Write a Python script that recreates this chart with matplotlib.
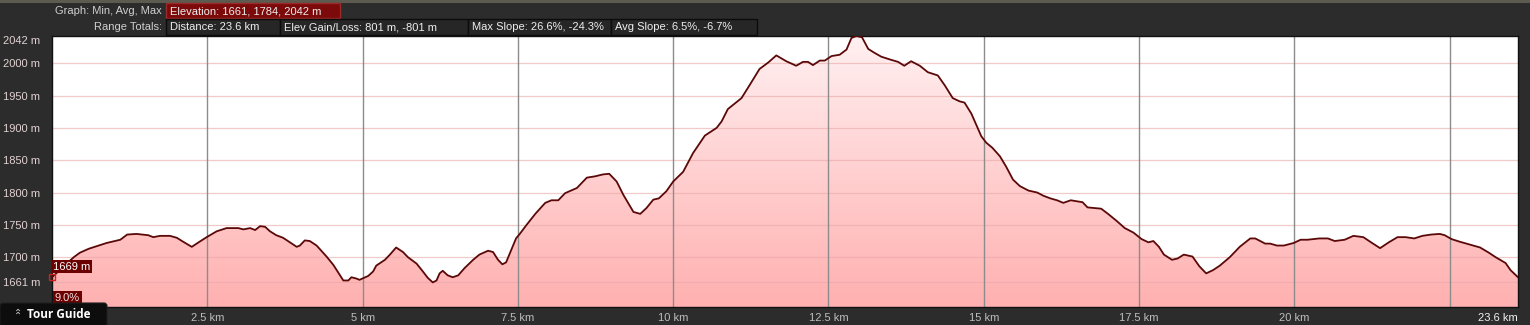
import numpy as np
import matplotlib
matplotlib.use("Agg")
import matplotlib.pyplot as plt
from matplotlib.patches import Rectangle, Polygon, FancyBboxPatch
from matplotlib.colors import LinearSegmentedColormap

# ---- data (distance km, elevation m) ----
distance_km = [
    0.00, 0.35, 0.45, 0.59, 0.75, 0.88, 1.10, 1.21, 1.36, 1.55, 1.63, 1.74, 1.90, 2.01,
    2.11, 2.25, 2.36, 2.49, 2.65, 2.81, 3.00, 3.08, 3.19, 3.27, 3.35, 3.43, 3.51, 3.61,
    3.72, 3.83, 3.94, 3.99, 4.07, 4.15, 4.26, 4.42, 4.53, 4.69, 4.77, 4.82, 4.90, 4.95,
    5.09, 5.17, 5.22, 5.36, 5.44, 5.54, 5.65, 5.73, 5.87, 5.97, 6.05, 6.13, 6.19, 6.24,
    6.29, 6.37, 6.45, 6.54, 6.64, 6.78, 6.88, 7.02, 7.10, 7.18, 7.25, 7.31, 7.37, 7.47,
    7.53, 7.64, 7.78, 7.94, 8.04, 8.15, 8.26, 8.45, 8.61, 8.74, 8.87, 8.97, 9.09, 9.20,
    9.36, 9.47, 9.57, 9.68, 9.77, 9.89, 10.00, 10.16, 10.32, 10.51, 10.70, 10.78, 10.88,
    11.10, 11.23, 11.39, 11.53, 11.66, 11.82, 11.98, 12.09, 12.17, 12.25, 12.36, 12.44,
    12.55, 12.68, 12.79, 12.87, 12.95, 13.04, 13.14, 13.24, 13.35, 13.48, 13.62, 13.72,
    13.83, 13.97, 14.10, 14.26, 14.37, 14.50, 14.61, 14.69, 14.80, 14.96, 15.04, 15.14,
    15.26, 15.36, 15.47, 15.58, 15.72, 15.86, 15.96, 16.07, 16.18, 16.28, 16.40, 16.59,
    16.67, 16.78, 16.89, 17.00, 17.14, 17.27, 17.41, 17.54, 17.65, 17.73, 17.82, 17.90,
    18.03, 18.12, 18.22, 18.36, 18.47, 18.58, 18.69, 18.80, 18.96, 19.12, 19.29, 19.37,
    19.53, 19.61, 19.72, 19.83, 19.99, 20.10, 20.21, 20.40, 20.54, 20.65, 20.81, 20.95,
    21.11, 21.25, 21.38, 21.52, 21.66, 21.79, 21.93, 22.06, 22.20, 22.34, 22.42, 22.53,
    22.66, 22.88, 22.99, 23.13, 23.24, 23.40, 23.48, 23.60,
]
elevation_m = [
    1669, 1700, 1707, 1713, 1718, 1722, 1727, 1735, 1736, 1734, 1731, 1733, 1733, 1730,
    1724, 1716, 1723, 1731, 1740, 1745, 1745, 1743, 1745, 1742, 1748, 1747, 1740, 1734,
    1730, 1723, 1716, 1718, 1726, 1725, 1718, 1701, 1688, 1664, 1664, 1669, 1667, 1665,
    1671, 1678, 1687, 1696, 1704, 1715, 1708, 1700, 1690, 1678, 1668, 1661, 1664, 1675,
    1679, 1672, 1669, 1672, 1683, 1696, 1704, 1710, 1708, 1696, 1689, 1692, 1706, 1729,
    1736, 1750, 1767, 1784, 1788, 1788, 1799, 1807, 1823, 1825, 1828, 1829, 1817, 1796,
    1770, 1767, 1776, 1789, 1791, 1802, 1817, 1832, 1861, 1888, 1900, 1910, 1929,
    1946, 1966, 1991, 2001, 2012, 2003, 1996, 2002, 2002, 1997, 2004, 2004,
    2011, 2013, 2021, 2039, 2042, 2040, 2022, 2016, 2010, 2006, 2002, 1996,
    2003, 1996, 1986, 1981, 1966, 1946, 1941, 1939, 1922, 1887, 1877, 1869,
    1856, 1840, 1820, 1810, 1803, 1800, 1795, 1791, 1788, 1784, 1788, 1785,
    1777, 1776, 1775, 1767, 1756, 1745, 1738, 1728, 1723, 1725, 1716, 1704,
    1696, 1698, 1704, 1701, 1686, 1675, 1680, 1687, 1700, 1716, 1729, 1729,
    1721, 1721, 1718, 1718, 1722, 1727, 1727, 1729, 1729, 1725, 1727, 1733,
    1731, 1722, 1714, 1723, 1731, 1731, 1729, 1733, 1735, 1736, 1734, 1728,
    1724, 1718, 1715, 1707, 1700, 1691, 1680, 1669,
]
y_ticks = [1661, 1700, 1750, 1800, 1850, 1900, 1950, 2000, 2042]
x_ticks = [2.5, 5, 7.5, 10, 12.5, 15, 17.5, 20, 23.6]
x_grid = [2.5, 5, 7.5, 10, 12.5, 15, 17.5, 20, 22.5]

header_row1 = ("Graph: Min, Avg, Max", ["Elevation: 1661, 1784, 2042 m"])
header_row2 = ("Range Totals:", ["Distance: 23.6 km", "Elev Gain/Loss: 801 m, -801 m",
                                 "Max Slope: 26.6%, -24.3%", "Avg Slope: 6.5%, -6.7%"])
start_label = "1669 m"
slope_label = "9.0%"

W, H = 1530, 325
BG = "#2c2c2c"
FONT = "Liberation Sans"

fig = plt.figure(figsize=(W / 100, H / 100), dpi=100, facecolor=BG)

# main axes
L, R, T, B = 52, 1518, 36, 307
ax = fig.add_axes([L / W, 1 - B / H, (R - L) / W, (B - T) / H])
ax.set_facecolor("white")
ax.set_xlim(0, 23.6)
ax.set_ylim(1623, 2042)

x = np.array(distance_km)
y = np.array(elevation_m)

# gradient fill under the profile
cmap = LinearSegmentedColormap.from_list("pinkgrad", ["#ffb0b0", "#fff0f1"])
grad = np.linspace(0, 1, 256).reshape(-1, 1)
im = ax.imshow(grad, extent=[0, 23.6, 1623, 2042], origin="lower", aspect="auto",
               cmap=cmap, zorder=1)
poly_xy = np.column_stack([np.r_[x[0], x, x[-1]], np.r_[1623, y, 1623]])
poly = Polygon(poly_xy, closed=True, facecolor="none", edgecolor="none")
ax.add_patch(poly)
im.set_clip_path(poly)

# grid lines
for yt in y_ticks[:-1]:
    ax.axhline(yt, color="#e9a8a8", lw=0.9, alpha=0.6, zorder=2)
for xg in x_grid:
    ax.axvline(xg, color="#8c8c8c", lw=1.0, zorder=2)

# profile line
ax.plot(x, y, color="#5a0808", lw=1.3, zorder=4)

# start marker
ax.plot([x[0]], [y[0]], marker="s", ms=5, mfc="none", mec="#d02020", mew=1,
        zorder=5, clip_on=False)

for s in ax.spines.values():
    s.set_color("#111111")
    s.set_linewidth(1)

# ticks
ax.set_yticks(y_ticks)
ax.set_yticklabels([f"{v} m" for v in y_ticks])
ax.tick_params(axis="y", length=0, pad=35, labelsize=8, labelcolor="#e2d2d2")
for lab in ax.get_yticklabels():
    lab.set_horizontalalignment("left")
    lab.set_fontfamily(FONT)
ax.get_yticklabels()[-1].set_verticalalignment("top")

ax.set_xticks(x_ticks)
ax.set_xticklabels([f"{v:g} km" for v in x_ticks])
ax.tick_params(axis="x", length=0, pad=4, labelsize=8, labelcolor="#bdbdbd")
for lab in ax.get_xticklabels():
    lab.set_fontfamily(FONT)
last = ax.get_xticklabels()[-1]
last.set_horizontalalignment("right")
last.set_color("#f0f0f0")

# labels near start point
ax.annotate(start_label, (x[0], y[0]), xytext=(1, 4), textcoords="offset points",
            ha="left", va="bottom", fontsize=8, color="white", fontfamily=FONT,
            bbox=dict(boxstyle="square,pad=0.15", fc="#6a0000", ec="none"), zorder=6,
            annotation_clip=False)
ax.annotate(slope_label, (x[0], 1623), xytext=(2, 3), textcoords="offset points",
            ha="left", va="bottom", fontsize=8, color="#f0e0e0", fontfamily=FONT,
            bbox=dict(boxstyle="square,pad=0.2", fc="#6a0000", ec="none"), zorder=6,
            annotation_clip=False)

# overlay for header and tour guide
ov = fig.add_axes([0, 0, 1, 1], facecolor="none")
ov.set_xlim(0, W)
ov.set_ylim(H, 0)
ov.axis("off")

ov.add_patch(Rectangle((0, 0), W, 3, facecolor="#5d5a50", edgecolor="none"))

def row(label, boxes, y0, h, widths, first_red):
    ov.text(162, y0 + h / 2, label, ha="right", va="center", fontsize=8,
            color="#cfcfcf", fontfamily=FONT)
    xb = 166
    for i, (txt, w) in enumerate(zip(boxes, widths)):
        red = first_red and i == 0
        ov.add_patch(Rectangle((xb, y0), w, h, facecolor="#7c0a0a" if red else "#262626",
                               edgecolor="#9a2a2a" if red else "#0c0c0c", lw=1))
        ov.text(xb + 4, y0 + h / 2 + 0.5, txt, ha="left", va="center", fontsize=8,
                color="#eeeeee", fontfamily=FONT)
        xb += w

row(header_row1[0], header_row1[1], 3, 15, [174], True)
row(header_row2[0], header_row2[1], 19, 16, [114, 188, 143, 146], False)

# Tour guide tab
ov.add_patch(FancyBboxPatch((0, 303), 107, 30, boxstyle="round,pad=0,rounding_size=3",
                            facecolor="#0d0d0d", edgecolor="#1e1e1e", lw=0.8))
ov.text(18, 312.5, "\u2303", ha="center", va="center", fontsize=7, color="#cccccc",
        fontfamily="DejaVu Sans")
ov.text(18, 315.5, "\u2303", ha="center", va="center", fontsize=7, color="#cccccc",
        fontfamily="DejaVu Sans")
ov.text(27, 314, "Tour Guide", ha="left", va="center", fontsize=8.5, color="white",
        fontweight="bold", fontfamily="Open Sans")

fig.savefig("out.png", dpi=100, facecolor=BG)
